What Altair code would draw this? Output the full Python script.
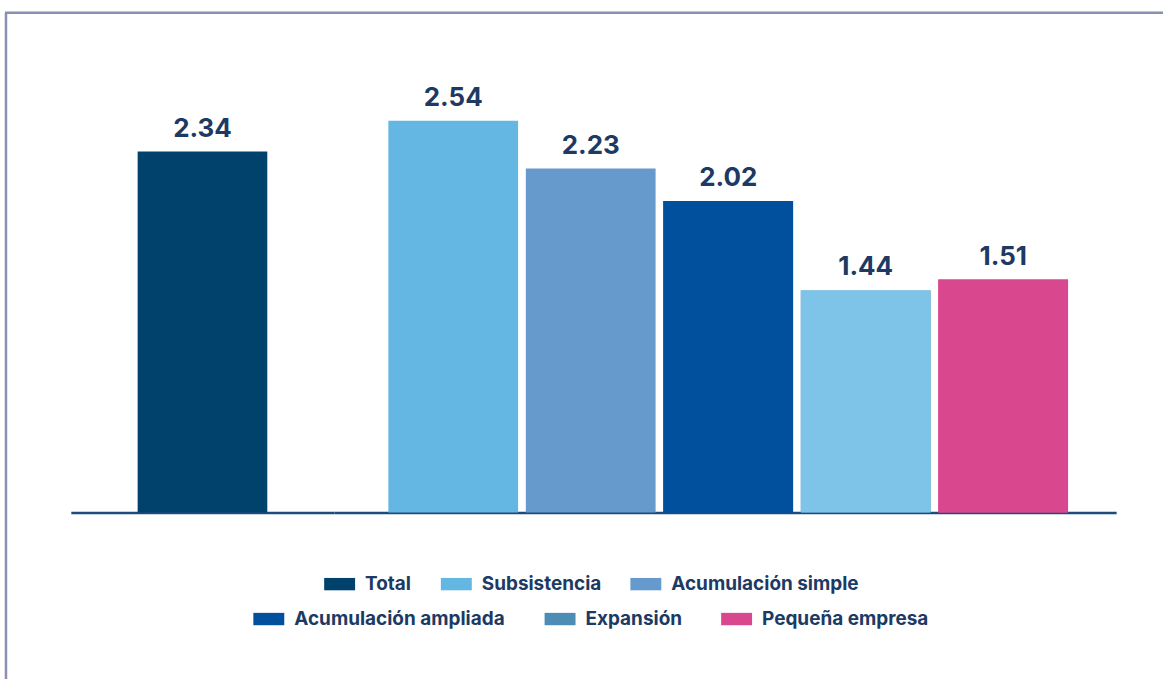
import altair as alt
import pandas as pd

# Ingreso promedio por tipo de unidad económica
categorias = ["Total", "Subsistencia", "Acumulación simple",
              "Acumulación ampliada", "Expansión", "Pequeña empresa"]
valores = [2.34, 2.54, 2.23, 2.02, 1.44, 1.51]

# colores de las barras y colores de los símbolos de la leyenda
colores_barra = ["#00426c", "#63b7e2", "#6699cc", "#01509d", "#7dc4e8", "#d9488f"]
colores_leyenda_2 = ["#01509d", "#4b8db5", "#d9488f"]

fila_1 = categorias[:3]
fila_2 = categorias[3:]

df = pd.DataFrame({"categoria": categorias, "valor": valores})

TEXTO = "#1c3a63"
EJE = "#1f4b7b"
MARCO = "#8b8fb3"
FUENTE = "Inter"
RECT = "M-1,-0.4H1V0.4H-1Z"

escala_y = alt.Scale(domain=[0, 3], nice=False, zero=True)
escala_color = alt.Scale(domain=categorias, range=colores_barra)
escala_fill = alt.Scale(domain=fila_2, range=colores_leyenda_2)


def leyenda(valores_fila, x, y, sep):
    return alt.Legend(
        values=valores_fila, orient="none", legendX=x, legendY=y,
        direction="horizontal", title=None,
        symbolType=RECT, symbolSize=961, symbolStrokeWidth=0, symbolOpacity=1,
        labelFont=FUENTE, labelFontSize=19, labelFontWeight="bold",
        labelColor=TEXTO, labelOffset=10, labelLimit=400,
        columnPadding=sep, padding=0,
    )


leyenda_1 = leyenda(fila_1, 254, 520, 29)
leyenda_2 = leyenda(fila_2, 183, 555, 39)


def panel(cats, ancho, p_inner, p_outer, alinear=0.5, marco=False):
    datos = df[df["categoria"].isin(cats)]
    base = alt.Chart(datos)
    x = alt.X(
        "categoria:N", sort=cats,
        scale=alt.Scale(paddingInner=p_inner, paddingOuter=p_outer, align=alinear),
        axis=alt.Axis(labels=False, ticks=False, title=None, grid=False,
                      domainColor=EJE, domainWidth=2.5),
    )
    y = alt.Y("valor:Q", scale=escala_y, axis=None)

    barras = base.mark_bar().encode(
        x=x, y=y,
        color=alt.Color("categoria:N", scale=escala_color, legend=leyenda_1),
    )
    etiquetas = base.mark_text(
        dy=-15, baseline="alphabetic", font=FUENTE, fontSize=26,
        fontWeight="bold", color=TEXTO,
    ).encode(x=x, y=y, text=alt.Text("valor:Q", format=".2f"))

    capas = [barras, etiquetas]
    if not marco:
        # segunda fila de la leyenda: barras cubiertas por la capa de color
        fila_inferior = base.transform_filter(
            alt.FieldOneOfPredicate(field="categoria", oneOf=fila_2)
        ).mark_bar().encode(
            x=x, y=y,
            fill=alt.Fill("categoria:N", scale=escala_fill, legend=leyenda_2),
        )
        capas = [fila_inferior] + capas
    else:
        borde_sup = base.mark_rule(color=MARCO, strokeWidth=2.5).encode(
            x=alt.value(-66), x2=alt.value(1095), y=alt.value(-37))
        borde_izq = base.mark_rule(color=MARCO, strokeWidth=2.5).encode(
            x=alt.value(-65), y=alt.value(-37), y2=alt.value(632))
        capas = [borde_sup, borde_izq] + capas
    return alt.layer(*capas).properties(width=ancho, height=464)


izquierda = panel(["Total"], 264, 0, 0.5154, marco=True)
derecha = panel(categorias[1:], 784, 0.0563, 0.372, alinear=0.53)

chart = (
    alt.hconcat(izquierda, derecha, spacing=0)
    .resolve_scale(color="shared", fill="shared", y="shared", x="independent")
    .properties(bounds="flush", padding={"left": 3, "top": 10, "right": 0, "bottom": 0})
    .configure_view(strokeWidth=0)
)

chart.save("out.html", embed_options={"renderer": "svg", "actions": False})
